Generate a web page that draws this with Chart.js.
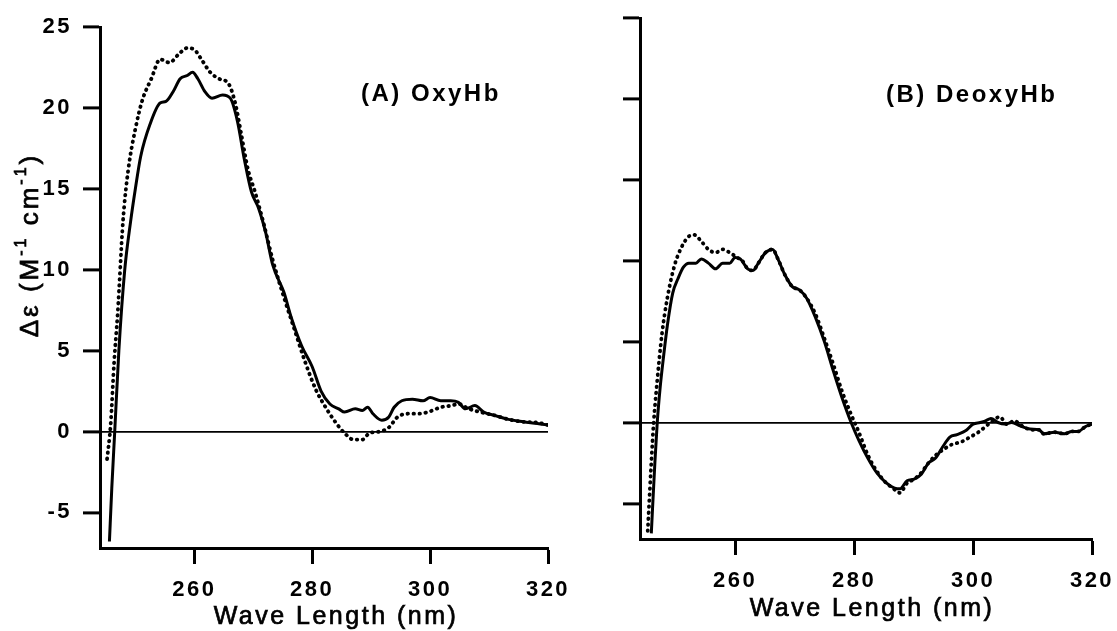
<!DOCTYPE html>
<html>
<head>
<meta charset="utf-8">
<script src="https://cdn.jsdelivr.net/npm/chart.js@4.4.1/dist/chart.umd.min.js"></script>
<style>
html, body { margin: 0; padding: 0; background: #fff; }
#wrap { position: relative; width: 1117px; height: 631px; background: #fff; }
#wrap canvas { position: absolute; left: 0; top: 0; }
</style>
</head>
<body>
<div id="wrap">
  <canvas id="chartA" width="1117" height="631"></canvas>
  <canvas id="chartB" width="1117" height="631"></canvas>
</div>
<script>
// ---------- data ----------
const wlMin = 244;
const wlMax = 320;
const deMin = -7.2;
const deMax = 25;
const xTicks = [260, 280, 300, 320];
const yTicks = [-5, 0, 5, 10, 15, 20, 25];

// (A) OxyHb
const oxySolidWl = [245.6, 246.0, 246.5, 247.2, 248.2, 249.2, 250.0, 250.9, 252.5, 254.2, 255.2, 256.4, 257.6, 258.8, 259.7, 260.6, 261.8, 263.0, 264.8, 266.1, 267.3, 268.5, 269.7, 270.9, 272.1, 273.3, 275.2, 276.4, 278.2, 280.0, 281.5, 283.0, 284.5, 285.5, 287.3, 288.5, 289.4, 290.3, 291.8, 293.0, 293.9, 295.2, 297.0, 298.8, 300.0, 301.8, 303.5, 304.8, 306.0, 307.6, 309.1, 310.9, 313.3, 315.8, 318.2, 320.0];
const oxySolidDe = [-6.8, -3.5, 0.0, 5.0, 10.0, 13.0, 15.0, 17.0, 19.0, 20.3, 20.4, 21.0, 21.8, 22.0, 22.2, 21.8, 21.0, 20.6, 20.8, 20.6, 19.2, 16.8, 14.8, 13.8, 12.3, 10.3, 8.6, 7.1, 5.3, 4.0, 2.5, 1.7, 1.4, 1.2, 1.4, 1.3, 1.5, 1.1, 0.7, 0.9, 1.5, 1.9, 2.0, 1.9, 2.1, 1.9, 1.9, 1.8, 1.4, 1.6, 1.2, 1.0, 0.75, 0.6, 0.5, 0.4];
const oxyDotWl = [245.2, 245.8, 246.4, 247.0, 247.9, 248.8, 250.0, 251.2, 252.7, 254.2, 255.8, 257.3, 258.8, 260.0, 261.2, 262.7, 264.2, 265.8, 267.0, 267.9, 269.1, 270.3, 271.8, 273.3, 275.2, 277.0, 278.8, 280.6, 282.1, 283.9, 285.5, 287.0, 288.5, 289.7, 291.5, 293.0, 294.5, 296.4, 298.2, 300.0, 301.8, 303.6, 304.8, 306.6, 308.5, 310.9, 313.3, 315.8, 318.2, 320.0];
const oxyDotDe = [-1.7, 0.4, 4.3, 7.3, 13.0, 16.2, 18.7, 20.5, 21.8, 23.0, 22.8, 23.3, 23.7, 23.6, 23.0, 22.2, 21.8, 21.5, 20.2, 18.5, 16.2, 14.8, 12.8, 10.6, 8.3, 6.3, 4.3, 2.6, 1.6, 0.6, -0.1, -0.5, -0.5, -0.1, 0.0, 0.25, 0.9, 1.1, 1.1, 1.25, 1.5, 1.6, 1.7, 1.4, 1.2, 1.0, 0.75, 0.6, 0.55, 0.4];

// (B) DeoxyHb
const deoxySolidWl = [245.9, 246.5, 246.9, 247.4, 248.0, 248.6, 249.5, 250.4, 251.3, 252.2, 253.4, 254.3, 255.5, 256.7, 257.9, 259.1, 260.0, 260.9, 262.1, 263.0, 263.9, 265.1, 266.3, 267.2, 268.4, 269.6, 270.8, 272.0, 273.5, 275.0, 276.5, 278.0, 279.5, 280.8, 282.3, 283.8, 285.3, 286.8, 287.7, 288.9, 290.1, 291.3, 292.5, 293.7, 294.9, 296.1, 297.3, 298.8, 300.0, 301.2, 302.1, 303.0, 304.2, 305.3, 306.5, 307.9, 309.6, 311.1, 311.9, 313.7, 315.4, 316.6, 317.7, 318.9, 320.0];
const deoxySolidDe = [-6.85, -2.5, 0.0, 2.2, 4.2, 6.0, 8.0, 8.9, 9.6, 9.85, 9.85, 10.1, 9.85, 9.5, 9.85, 9.85, 10.2, 10.1, 9.5, 9.4, 9.85, 10.5, 10.7, 10.1, 9.1, 8.4, 8.2, 7.7, 6.5, 5.0, 3.2, 1.5, 0.0, -1.1, -2.2, -3.1, -3.7, -4.05, -4.1, -3.6, -3.5, -3.2, -2.5, -2.2, -1.5, -0.9, -0.75, -0.5, -0.1, 0.0, 0.1, 0.25, 0.0, -0.1, 0.0, -0.2, -0.4, -0.45, -0.7, -0.6, -0.7, -0.55, -0.55, -0.25, -0.1];
const deoxyDotWl = [245.3, 245.9, 246.3, 246.8, 247.7, 248.6, 249.8, 251.0, 252.2, 253.1, 254.3, 255.5, 256.7, 257.9, 259.1, 260.3, 261.2, 262.1, 263.0, 263.9, 265.1, 266.3, 267.2, 268.4, 269.6, 270.8, 272.0, 273.5, 275.0, 276.5, 278.0, 279.5, 280.8, 282.3, 283.8, 285.3, 286.5, 287.7, 288.9, 290.1, 291.3, 292.5, 293.8, 295.3, 296.5, 298.0, 299.5, 300.9, 302.1, 303.3, 304.5, 305.7, 306.9, 308.4, 309.9, 311.1, 311.9, 313.7, 315.4, 316.6, 317.7, 318.9, 320.0];
const deoxyDotDe = [-6.7, -2.5, 0.0, 2.2, 5.5, 7.7, 9.7, 10.85, 11.5, 11.6, 11.2, 10.7, 10.5, 10.7, 10.5, 10.2, 10.0, 9.5, 9.4, 9.85, 10.5, 10.7, 10.1, 9.1, 8.4, 8.2, 7.7, 6.7, 5.2, 3.6, 1.9, 0.5, -0.6, -2.0, -3.0, -3.7, -4.05, -4.35, -3.75, -3.5, -3.1, -2.5, -2.0, -1.6, -1.35, -1.2, -0.9, -0.6, -0.25, 0.1, 0.35, -0.1, 0.1, -0.25, -0.45, -0.45, -0.7, -0.6, -0.7, -0.55, -0.55, -0.25, -0.1];

// ---------- rendering ----------
const FONT = '"Liberation Sans", Arial, Helvetica, sans-serif';
Chart.defaults.font.family = FONT;
Chart.defaults.color = '#000';

function pts(xs, ys) { return xs.map((x, i) => ({ x: x, y: ys[i] })); }

function fillHeavy(ctx, t, x, y, w) {
  ctx.fillText(t, x, y);
  if (w) { ctx.lineWidth = w; ctx.strokeText(t, x, y); }
}

function drawRich(ctx, parts, x, y, rotate, heavy) {
  ctx.save();
  ctx.translate(x, y);
  if (rotate) ctx.rotate(-Math.PI / 2);
  let total = 0;
  parts.forEach(p => { ctx.font = p.font; p.w = ctx.measureText(p.t).width; total += p.w; });
  let cx = -total / 2;
  ctx.textAlign = 'left';
  ctx.textBaseline = 'middle';
  parts.forEach(p => { ctx.font = p.font; fillHeavy(ctx, p.t, cx, p.dy || 0, heavy); cx += p.w; });
  ctx.restore();
}

const panelText = {
  id: 'panelText',
  beforeDraw(chart) { chart.ctx.letterSpacing = '2.5px'; },
  afterDraw(chart, args, o) {
    const ctx = chart.ctx;
    ctx.save();
    ctx.fillStyle = '#000';
    ctx.strokeStyle = '#000';
    ctx.textBaseline = 'middle';
    ctx.textAlign = 'left';
    ctx.letterSpacing = '2.5px';
    ctx.font = 'bold 24px ' + FONT;
    ctx.fillText(o.label, o.labelX, o.labelY);
    ctx.textAlign = 'center';
    ctx.letterSpacing = '2.5px';
    ctx.font = '25px ' + FONT;
    fillHeavy(ctx, o.xTitle, o.xTitleX, o.xTitleY, 0.7);
    if (o.yTitle) {
      ctx.letterSpacing = '3px';
      const big = '26px ' + FONT, small = '16px ' + FONT;
      drawRich(ctx, [
        { t: 'Δε (M', font: big },
        { t: '-1', font: small, dy: -9 },
        { t: ' cm', font: big },
        { t: '-1', font: small, dy: -9 },
        { t: ')', font: big }
      ], o.yTitleX, o.yTitleY, true, 0.7);
    }
    ctx.restore();
  }
};

function makeChart(id, o) {
  return new Chart(document.getElementById(id), {
    type: 'line',
    data: {
      datasets: [
        { label: 'solid curve', data: pts(o.sx, o.sy), borderColor: '#000', borderWidth: 3,
          pointRadius: 0, cubicInterpolationMode: 'monotone', fill: false, borderJoinStyle: 'round' },
        { label: 'dotted curve', data: pts(o.dx, o.dy), borderColor: '#000', borderWidth: 3.8,
          borderDash: [0.5, 5.5], borderCapStyle: 'round', pointRadius: 0,
          cubicInterpolationMode: 'monotone', fill: false }
      ]
    },
    options: {
      responsive: false,
      animation: false,
      devicePixelRatio: 1,
      layout: { padding: o.pad },
      plugins: {
        legend: { display: false },
        tooltip: { enabled: false },
        panelText: o.text
      },
      scales: {
        x: {
          type: 'linear', min: wlMin, max: wlMax,
          afterBuildTicks: s => { s.ticks = xTicks.map(v => ({ value: v })); },
          afterFit: s => { s.height = o.xh; s.paddingLeft = 0; s.paddingRight = 0; },
          border: { display: true, color: '#000', width: 3 },
          grid: { drawOnChartArea: false, color: '#000', tickColor: '#000', tickLength: 16, tickWidth: 3 },
          ticks: { color: '#000', font: { size: 22, weight: 'bold' }, padding: 13, maxRotation: 0, autoSkip: false }
        },
        y: {
          type: 'linear', min: deMin, max: deMax,
          afterBuildTicks: s => { s.ticks = yTicks.map(v => ({ value: v })); },
          afterFit: s => { s.width = o.yw; s.paddingTop = 0; s.paddingBottom = 0; },
          border: { display: true, color: '#000', width: 3 },
          grid: {
            drawOnChartArea: true,
            color: c => (c.tick && c.tick.value === 0) ? '#000' : 'rgba(0,0,0,0)',
            lineWidth: 1.8,
            tickColor: '#000', tickLength: 17, tickWidth: 3
          },
          ticks: {
            color: '#000', font: { size: 22, weight: 'bold' }, padding: 11, autoSkip: false,
            callback: o.showYLabels ? (v => String(v)) : (() => '')
          }
        }
      }
    },
    plugins: [panelText]
  });
}

makeChart('chartA', {
  sx: oxySolidWl, sy: oxySolidDe, dx: oxyDotWl, dy: oxyDotDe,
  pad: { left: 0, top: 27, right: 569, bottom: 0 },
  xh: 83, yw: 100, showYLabels: true,
  text: { label: '(A) OxyHb', labelX: 361, labelY: 94,
          xTitle: 'Wave Length (nm)', xTitleX: 336, xTitleY: 617,
          yTitle: true, yTitleX: 31, yTitleY: 245 }
});

makeChart('chartB', {
  sx: deoxySolidWl, sy: deoxySolidDe, dx: deoxyDotWl, dy: deoxyDotDe,
  pad: { left: 560, top: 18, right: 25, bottom: 0 },
  xh: 92, yw: 80, showYLabels: false,
  text: { label: '(B) DeoxyHb', labelX: 886, labelY: 95,
          xTitle: 'Wave Length (nm)', xTitleX: 872, xTitleY: 609,
          yTitle: false }
});
</script>
</body>
</html>
